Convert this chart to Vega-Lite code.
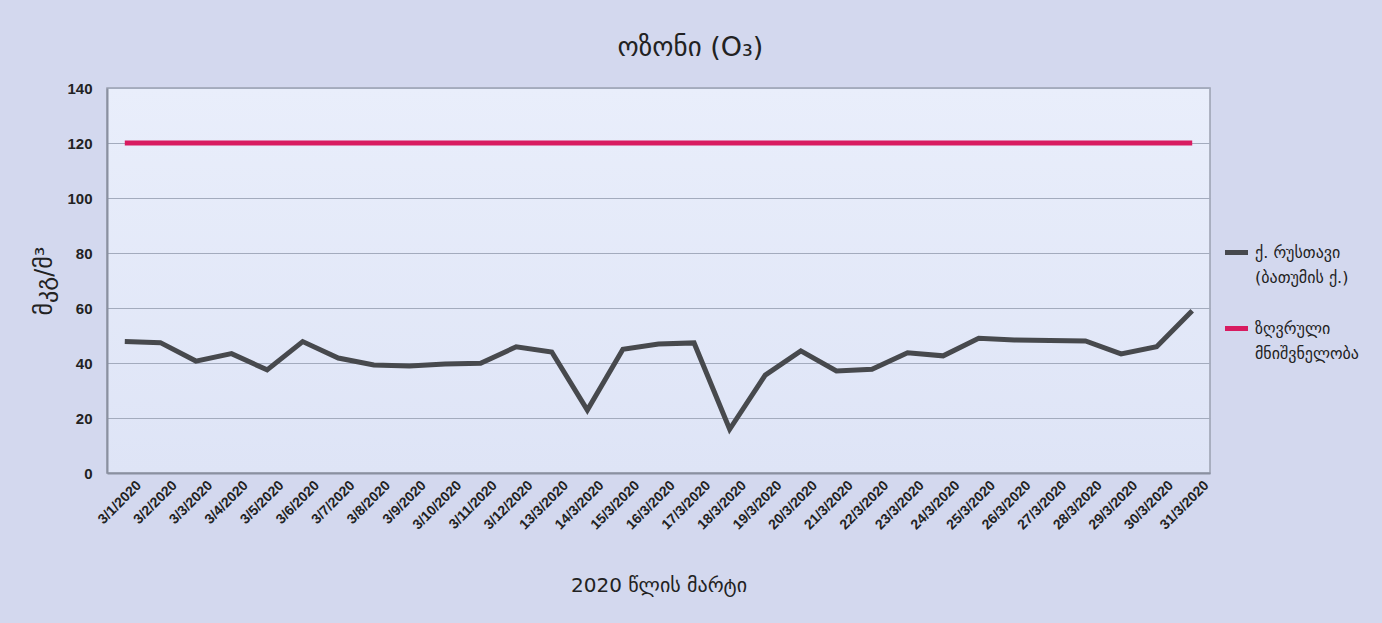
{
  "$schema": "https://vega.github.io/schema/vega-lite/v6.json",
  "width": 1103,
  "height": 385,
  "autosize": {"type": "none"},
  "padding": {"left": 107, "top": 88, "right": 172, "bottom": 150},
  "background": "#d3d8ee",
  "title": {
    "text": "ოზონი (O₃)",
    "font": "DejaVu Sans",
    "fontSize": 27,
    "fontWeight": "normal",
    "color": "#222222",
    "anchor": "middle",
    "dx": 32,
    "offset": 19
  },
  "data": {
    "values": [
      {"date": "3/1/2020", "r": 47.8, "l": 120},
      {"date": "3/2/2020", "r": 47.4, "l": 120},
      {"date": "3/3/2020", "r": 40.7, "l": 120},
      {"date": "3/4/2020", "r": 43.4, "l": 120},
      {"date": "3/5/2020", "r": 37.5, "l": 120},
      {"date": "3/6/2020", "r": 47.8, "l": 120},
      {"date": "3/7/2020", "r": 41.8, "l": 120},
      {"date": "3/8/2020", "r": 39.3, "l": 120},
      {"date": "3/9/2020", "r": 38.9, "l": 120},
      {"date": "3/10/2020", "r": 39.6, "l": 120},
      {"date": "3/11/2020", "r": 39.9, "l": 120},
      {"date": "3/12/2020", "r": 45.9, "l": 120},
      {"date": "13/3/2020", "r": 44.0, "l": 120},
      {"date": "14/3/2020", "r": 22.9, "l": 120},
      {"date": "15/3/2020", "r": 45.0, "l": 120},
      {"date": "16/3/2020", "r": 46.9, "l": 120},
      {"date": "17/3/2020", "r": 47.3, "l": 120},
      {"date": "18/3/2020", "r": 15.9, "l": 120},
      {"date": "19/3/2020", "r": 35.6, "l": 120},
      {"date": "20/3/2020", "r": 44.4, "l": 120},
      {"date": "21/3/2020", "r": 37.1, "l": 120},
      {"date": "22/3/2020", "r": 37.7, "l": 120},
      {"date": "23/3/2020", "r": 43.7, "l": 120},
      {"date": "24/3/2020", "r": 42.6, "l": 120},
      {"date": "25/3/2020", "r": 49.0, "l": 120},
      {"date": "26/3/2020", "r": 48.4, "l": 120},
      {"date": "27/3/2020", "r": 48.2, "l": 120},
      {"date": "28/3/2020", "r": 48.0, "l": 120},
      {"date": "29/3/2020", "r": 43.3, "l": 120},
      {"date": "30/3/2020", "r": 45.9, "l": 120},
      {"date": "31/3/2020", "r": 59.0, "l": 120}
    ]
  },
  "transform": [
    {"fold": ["r", "l"], "as": ["key", "value"]},
    {"lookup": "key", "from": {"data": {"values": [
      {"key": "r", "series": "ქ. რუსთავი (ბათუმის ქ.)"},
      {"key": "l", "series": "ზღვრული მნიშვნელობა"}
    ]}, "key": "key", "fields": ["series"]}}
  ],
  "mark": {"type": "line", "strokeWidth": 5, "strokeJoin": "miter", "strokeCap": "butt"},
  "encoding": {
    "x": {
      "field": "date",
      "type": "nominal",
      "sort": null,
      "scale": {"type": "point", "padding": 0.5},
      "axis": {
        "title": "2020 წლის მარტი",
        "titleFont": "DejaVu Sans",
        "titleFontSize": 20,
        "titleFontWeight": "normal",
        "titleColor": "#222222",
        "titlePadding": 44,
        "labelAngle": -45,
        "labelFont": "Liberation Sans",
        "labelFontSize": 14,
        "labelFontWeight": "bold",
        "labelColor": "#222222",
        "labelPadding": 5,
        "labelOffset": 9,
        "ticks": false,
        "grid": false,
        "domainColor": "#8a90a0",
        "domainWidth": 2
      }
    },
    "y": {
      "field": "value",
      "type": "quantitative",
      "scale": {"domain": [0, 140]},
      "axis": {
        "title": "მკგ/მ³",
        "titleFont": "DejaVu Sans",
        "titleFontSize": 24,
        "titleFontWeight": "normal",
        "titleColor": "#222222",
        "titlePadding": 10,
        "values": [0, 20, 40, 60, 80, 100, 120, 140],
        "labelFont": "Liberation Sans",
        "labelFontSize": 15,
        "labelFontWeight": "bold",
        "labelColor": "#222222",
        "labelPadding": 15,
        "ticks": false,
        "gridColor": "#a3abbd",
        "gridWidth": 1.2,
        "domainColor": "#8a90a0",
        "domainWidth": 2
      }
    },
    "color": {
      "field": "series",
      "type": "nominal",
      "scale": {
        "domain": ["ქ. რუსთავი (ბათუმის ქ.)", "ზღვრული მნიშვნელობა"],
        "range": ["#47494d", "#d81b60"]
      },
      "legend": {
        "title": null,
        "orient": "none",
        "legendX": 1115,
        "legendY": 150,
        "symbolType": "stroke",
        "symbolStrokeWidth": 5,
        "symbolSize": 530,
        "labelFont": "DejaVu Sans",
        "labelFontSize": 16,
        "labelColor": "#222222",
        "labelLimit": 200,
        "labelOffset": 4,
        "rowPadding": 28,
        "labelExpr": "datum.label == 'ზღვრული მნიშვნელობა' ? ['ზღვრული', 'მნიშვნელობა'] : ['ქ. რუსთავი', '(ბათუმის ქ.)']",
        "encode": {"labels": {"update": {"lineHeight": {"value": 25}}}}
      }
    }
  },
  "config": {
    "view": {
      "fill": {"gradient": "linear", "x1": 0, "y1": 0, "x2": 0, "y2": 1, "stops": [{"offset": 0, "color": "#e9eefb"}, {"offset": 1, "color": "#dee4f6"}]},
      "stroke": "#9aa0b0",
      "strokeWidth": 1.5
    }
  }
}
